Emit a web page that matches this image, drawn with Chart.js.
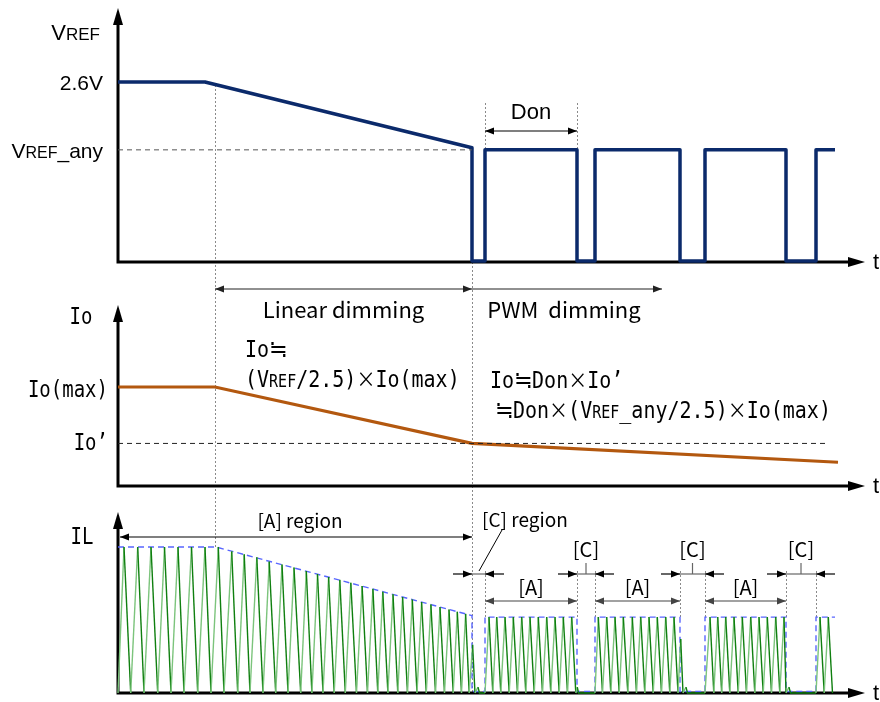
<!DOCTYPE html>
<html>
<head>
<meta charset="utf-8">
<script src="https://cdn.jsdelivr.net/npm/chart.js@4.4.1/dist/chart.umd.min.js"></script>
<style>
  html, body { margin: 0; padding: 0; background: #fff; }
  #c { display: block; }
</style>
</head>
<body>
<canvas id="c" width="880" height="702"></canvas>
<script>
// time axis (arbitrary units, 0 = origin of every panel)
const tMin = 0, tMax = 74, tTip = 74.7;

// VREF waveform
const vrefT = [0, 8.7, 35.4, 35.4, 36.7, 36.7, 45.9, 45.9, 47.7, 47.7, 56.2, 56.2, 58.7, 58.7, 66.8, 66.8, 69.8, 69.8, 71.7];
const vrefV = [2.6, 2.6, 1.65, 0.015, 0.015, 1.62, 1.62, 0.015, 0.015, 1.62, 1.62, 0.015, 0.015, 1.62, 1.62, 0.015, 0.015, 1.62, 1.62];
const vrefAnyT = [0, 35.4];
const vrefAnyV = [1.62, 1.62];
const vTickVals = [2.6, 1.62];
const vTickText = ['2.6V', 'VREF_any'];

// Io waveform (relative to Io(max))
const ioT = [0, 9.7, 35.4, 72.0];
const ioV = [1.0, 1.0, 0.43, 0.24];
const ioPrimeT = [0, 71.0];
const ioPrimeV = [0.43, 0.43];
const iTickVals = [1.0, 0.43];
const iTickText = ['Io(max)', 'Io\u2019'];

// IL peak envelope (dashed)
const envT = [0, 9.8, 35.4, 35.4, 36.7, 36.7, 45.9, 45.9, 47.7, 47.7, 56.2, 56.2, 58.7, 58.7, 66.8, 66.8, 69.8, 69.8, 71.7];
const envV = [1.0, 1.0, 0.53, 0.01, 0.01, 0.52, 0.52, 0.01, 0.01, 0.52, 0.52, 0.01, 0.01, 0.52, 0.52, 0.01, 0.01, 0.52, 0.52];

// IL inductor current, vertices of the triangle wave
const ilT = [
  0, 0.6, 1.27, 1.97, 2.6, 3.3, 3.97, 4.65, 5.3, 6.0, 6.6, 7.35, 7.97, 8.7, 9.3, 10.03, 10.6,
  11.37, 11.97, 12.62, 13.2, 13.88, 14.5, 15.12, 15.77, 16.4, 17.0, 17.6, 18.27, 18.83, 19.39,
  19.95, 20.5, 21.06, 21.62, 22.18, 22.73, 23.28, 23.85, 24.41, 24.95, 25.49, 25.98, 26.48, 26.99,
  27.5, 27.98, 28.46, 28.95, 29.43, 29.9, 30.36, 30.83, 31.29, 31.75, 32.2, 32.65, 33.1, 33.52,
  33.93, 34.35, 34.76, 35.12, 35.46, 35.7, 36.0, 36.15,
  36.7, 37.1, 37.48, 37.87, 38.28, 38.7, 39.12, 39.53, 39.95, 40.37, 40.78, 41.2, 41.62, 42.03,
  42.45, 42.87, 43.28, 43.7, 44.12, 44.53, 44.95, 45.37, 45.78, 45.93, 46.05,
  47.7, 48.03, 48.45, 48.87, 49.28, 49.7, 50.12, 50.53, 50.98, 51.43, 51.85, 52.27, 52.68, 53.1,
  53.52, 53.93, 54.35, 54.77, 55.18, 55.6, 56.0, 56.27, 56.5, 56.8, 56.95,
  58.7, 59.2, 59.58, 59.97, 60.37, 60.77, 61.18, 61.6, 62.02, 62.43, 62.85, 63.27, 63.68, 64.1,
  64.52, 64.93, 65.35, 65.77, 66.18, 66.6, 66.8, 67.1, 67.25,
  69.8, 70.2, 70.62, 71.03, 71.45
];
const ilV = [
  0, 1, 0, 1, 0, 1, 0, 1, 0, 1, 0, 1, 0, 1, 0, 1, 0,
  0.97, 0, 0.95, 0, 0.93, 0, 0.90, 0, 0.88, 0, 0.86, 0, 0.835, 0,
  0.815, 0, 0.795, 0, 0.775, 0, 0.755, 0, 0.733, 0, 0.713, 0, 0.694, 0,
  0.676, 0, 0.658, 0, 0.64, 0, 0.623, 0, 0.606, 0, 0.589, 0, 0.572, 0,
  0.557, 0, 0.542, 0, 0.33, 0, 0.04, 0,
  0, 0.52, 0, 0.52, 0, 0.52, 0, 0.52, 0, 0.52, 0, 0.52, 0, 0.52,
  0, 0.52, 0, 0.52, 0, 0.52, 0, 0.52, 0, 0.04, 0,
  0, 0.52, 0, 0.52, 0, 0.52, 0, 0.52, 0, 0.52, 0, 0.52, 0, 0.52,
  0, 0.52, 0, 0.52, 0, 0.52, 0, 0.37, 0, 0.04, 0,
  0, 0.52, 0, 0.52, 0, 0.52, 0, 0.52, 0, 0.52, 0, 0.52, 0, 0.52,
  0, 0.52, 0, 0.52, 0, 0.52, 0, 0.04, 0,
  0, 0.52, 0, 0.52, 0
];

// PWM on / off edges (for the dimension marks)
const onStart = [36.7, 47.7, 58.7];
const onEnd = [45.9, 56.2, 66.8];
const lastOn = 69.8;
const linEnd = 35.4, linStart = 9.7, pwmArrowEnd = 54.4;

// ---- layout ----
const W = 880, H = 702;
const panels = {
  yV: { base: 262, ref: 82, refVal: 2.6, tip: 8 },
  yI: { base: 486, ref: 387, refVal: 1.0, tip: 305 },
  yL: { base: 693, ref: 547, refVal: 1.0, tip: 512 }
};
function band(p) {
  const k = p.refVal / (p.base - p.ref);
  return { min: -(H - p.base) * k, max: p.base * k };
}

const LAT = '"Liberation Sans", Arial, sans-serif';
const JP = '"Noto Sans CJK JP", sans-serif';
const MONO = '"DejaVu Sans Mono", "Liberation Mono", monospace';

function pts(t, v) { return t.map((x, i) => ({ x: x, y: v[i] })); }

function textParts(text, size, family) {
  const out = [];
  text.split(/(VREF|\u2252|\u00D7)/).forEach(s => {
    if (s === 'VREF') {
      out.push(['V', size + 'px ' + family]);
      out.push(['REF', Math.round(size * 0.76) + 'px ' + family]);
    } else if (s === '\u2252') {
      out.push([s, Math.round(size * 1.1) + 'px ' + JP]);
    } else if (s === '\u00D7') {
      out.push([s, Math.round(size * 0.95) + 'px ' + JP]);
    } else if (s) {
      out.push([s, size + 'px ' + family]);
    }
  });
  return out;
}
function label(ctx, text, size, family, x, y, align, sy) {
  const ps = textParts(text, size, family);
  let w = 0;
  ps.forEach(p => { ctx.font = p[1]; w += ctx.measureText(p[0]).width; });
  let cx = align === 'right' ? x - w : align === 'center' ? x - w / 2 : x;
  ctx.textAlign = 'left';
  ctx.textBaseline = 'alphabetic';
  ps.forEach(p => {
    ctx.font = p[1];
    ctx.save();
    ctx.translate(cx, y);
    ctx.scale(1, sy || 1);
    ctx.fillText(p[0], 0, 0);
    ctx.restore();
    cx += ctx.measureText(p[0]).width;
  });
}
function head(ctx, x, y, dir, len, half) {
  ctx.beginPath();
  ctx.moveTo(x, y);
  if (dir === 'r') { ctx.lineTo(x - len, y - half); ctx.lineTo(x - len, y + half); }
  else if (dir === 'l') { ctx.lineTo(x + len, y - half); ctx.lineTo(x + len, y + half); }
  else { ctx.lineTo(x - half, y + len); ctx.lineTo(x + half, y + len); }
  ctx.closePath();
  ctx.fill();
}
function hline(ctx, x0, x1, y) {
  ctx.beginPath(); ctx.moveTo(x0, y); ctx.lineTo(x1, y); ctx.stroke();
}
// double / single headed dimension arrow
function dim(ctx, x0, x1, y, left, right, color) {
  ctx.strokeStyle = color; ctx.fillStyle = color; ctx.lineWidth = 1.2;
  hline(ctx, x0, x1, y);
  if (left) head(ctx, x0, y, 'l', 9, 3.5);
  if (right) head(ctx, x1, y, 'r', 9, 3.5);
}
// arrows pointing inwards at a narrow gap
function gapMark(ctx, x0, x1, y, tick) {
  ctx.strokeStyle = '#000'; ctx.fillStyle = '#000'; ctx.lineWidth = 1.2;
  hline(ctx, x0 - 19, x0, y);
  head(ctx, x0, y, 'r', 9, 3.5);
  hline(ctx, x1, x1 + 19, y);
  head(ctx, x1, y, 'l', 9, 3.5);
  ctx.strokeStyle = '#666';
  hline(ctx, x0, x1, y);
  if (tick) {
    const c = (x0 + x1) / 2;
    ctx.beginPath(); ctx.moveTo(c, y); ctx.lineTo(c, y - 11); ctx.stroke();
  }
}

const diagram = {
  id: 'diagram',
  beforeDatasetsDraw(chart) {
    const ctx = chart.ctx, x = chart.scales.x;
    const px = t => Math.round(x.getPixelForValue(t)) + 0.5;
    ctx.save();
    // dotted guides
    ctx.strokeStyle = '#8a8a8a'; ctx.lineWidth = 1; ctx.setLineDash([2, 2]);
    const guides = [[linStart, 85, 547], [linEnd, 150, 692], [onStart[0], 103, 150], [onEnd[0], 103, 150]];
    onStart.concat(onEnd, [lastOn]).forEach(t => guides.push([t, 571, 617]));
    guides.forEach(g => { ctx.beginPath(); ctx.moveTo(px(g[0]), g[1]); ctx.lineTo(px(g[0]), g[2]); ctx.stroke(); });
    ctx.setLineDash([]);
    // axes with arrows
    ctx.strokeStyle = '#000'; ctx.fillStyle = '#000'; ctx.lineWidth = 3;
    const x0 = x.getPixelForValue(tMin), xt = x.getPixelForValue(tTip);
    Object.keys(panels).forEach(id => {
      const b = chart.scales[id].getPixelForValue(0);
      const tip = panels[id].tip;
      ctx.beginPath();
      ctx.moveTo(x0, b + 1.5); ctx.lineTo(x0, tip + 14);
      ctx.moveTo(x0 - 1.5, b); ctx.lineTo(xt - 14, b);
      ctx.stroke();
      head(ctx, x0, tip, 'u', 17, 5);
      head(ctx, xt, b, 'r', 17, 5);
      label(ctx, 't', 22, LAT, xt + 8, b + 7, 'left');
    });
    ctx.restore();
  },
  afterDatasetsDraw(chart) {
    const ctx = chart.ctx, x = chart.scales.x;
    const yV = chart.scales.yV, yI = chart.scales.yI;
    const px = t => x.getPixelForValue(t);
    ctx.save();
    ctx.fillStyle = '#000';

    // VREF panel
    label(ctx, 'VREF', 22, LAT, 100, 40, 'right');
    vTickVals.forEach((v, i) => label(ctx, vTickText[i], 21, LAT, 103, yV.getPixelForValue(v) + 8, 'right'));
    label(ctx, 'Don', 22, LAT, (px(onStart[0]) + px(onEnd[0])) / 2, 119, 'center');
    dim(ctx, px(onStart[0]), px(onEnd[0]), 131, true, true, '#000');

    // dimming ranges
    dim(ctx, px(linStart), px(linEnd), 289, true, true, '#222');
    dim(ctx, px(linEnd), px(pwmArrowEnd), 289, false, true, '#222');
    ctx.fillStyle = '#000';
    label(ctx, 'Linear dimming', 22, JP, (px(linStart) + px(linEnd)) / 2, 318, 'center');
    label(ctx, 'PWM  dimming', 22, JP, 564, 318, 'center');

    // Io panel
    label(ctx, 'Io', 19, MONO, 81, 324, 'center', 1.18);
    iTickVals.forEach((v, i) => label(ctx, iTickText[i], 19, MONO, 108, yI.getPixelForValue(v) + [10, 7][i], 'right', 1.18));
    label(ctx, 'Io\u2252', 20, MONO, 245, 357, 'left', 1.12);
    label(ctx, '(VREF/2.5)\u00D7Io(max)', 20, MONO, 245, 387, 'left', 1.12);
    label(ctx, 'Io\u2252Don\u00D7Io\u2019', 20, MONO, 490, 388, 'left', 1.12);
    label(ctx, '\u2252Don\u00D7(VREF_any/2.5)\u00D7Io(max)', 20, MONO, 495, 418, 'left', 1.12);

    // IL panel
    label(ctx, 'IL', 19, MONO, 82, 544, 'center', 1.18);
    dim(ctx, px(tMin) + 2, px(linEnd), 537, true, true, '#000');
    ctx.fillStyle = '#000';
    label(ctx, '[A] region', 19, JP, 300, 528, 'center');
    label(ctx, '[C] region', 19, JP, 482, 527, 'left');
    ctx.strokeStyle = '#000'; ctx.lineWidth = 1;
    ctx.beginPath(); ctx.moveTo(502, 530); ctx.lineTo(479, 571); ctx.stroke();
    gapMark(ctx, px(linEnd), px(onStart[0]), 574, false);
    onEnd.forEach((t, i) => {
      const next = i < onStart.length - 1 ? onStart[i + 1] : lastOn;
      gapMark(ctx, px(t), px(next), 574, true);
      ctx.fillStyle = '#000';
      label(ctx, '[C]', 20, JP, (px(t) + px(next)) / 2, 557, 'center');
      dim(ctx, px(onStart[i]), px(t), 601, true, true, '#444');
      ctx.fillStyle = '#000';
      label(ctx, '[A]', 20, JP, (px(onStart[i]) + px(t)) / 2, 595, 'center');
    });
    ctx.restore();
  }
};

const vb = band(panels.yV), ib = band(panels.yI), lb = band(panels.yL);

new Chart(document.getElementById('c'), {
  type: 'line',
  data: {
    datasets: [
      { data: pts(vrefAnyT, vrefAnyV), yAxisID: 'yV', borderColor: '#555', borderWidth: 1, borderDash: [5, 4] },
      { data: pts(ioPrimeT, ioPrimeV), yAxisID: 'yI', borderColor: '#222', borderWidth: 1, borderDash: [5, 4] },
      { data: pts(vrefT, vrefV), yAxisID: 'yV', borderColor: '#0b2a6b', borderWidth: 3.5, borderJoinStyle: 'round' },
      { data: pts(ioT, ioV), yAxisID: 'yI', borderColor: '#b3580f', borderWidth: 3.2 },
      {
        data: pts(ilT, ilV), yAxisID: 'yL', borderWidth: 1.4, borderColor: '#0f7f0f',
        segment: { borderColor: c => c.p1.parsed.y > c.p0.parsed.y ? '#7cc47c' : '#0f7f0f' }
      },
      { data: pts(envT, envV), yAxisID: 'yL', borderColor: '#5866ff', borderWidth: 1.4, borderDash: [6, 4] }
    ]
  },
  options: {
    responsive: false,
    devicePixelRatio: 1,
    animation: false,
    layout: { padding: { left: 118, right: W - 858, top: 0, bottom: 0 } },
    elements: { point: { radius: 0 }, line: { tension: 0 } },
    datasets: { line: { clip: false } },
    plugins: { legend: { display: false }, tooltip: { enabled: false } },
    scales: {
      x: { type: 'linear', min: tMin, max: tMax, display: false },
      yV: { type: 'linear', position: 'left', min: vb.min, max: vb.max, display: false },
      yI: { type: 'linear', position: 'left', min: ib.min, max: ib.max, display: false },
      yL: { type: 'linear', position: 'left', min: lb.min, max: lb.max, display: false }
    }
  },
  plugins: [diagram]
});
</script>
</body>
</html>
